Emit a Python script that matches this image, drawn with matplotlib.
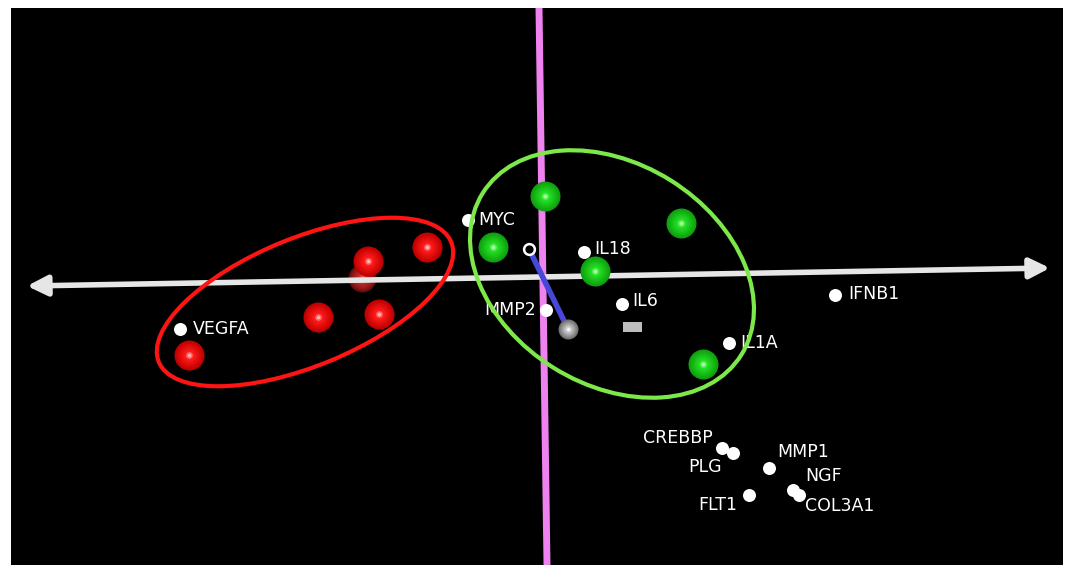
import numpy as np
import matplotlib.pyplot as plt
from matplotlib.patches import Ellipse, Rectangle
from matplotlib.colors import to_rgb

# positions are in picture pixels (x right, y down)
red_x = [427, 368, 318, 379, 189]
red_y = [247, 261, 317, 314, 355]
red_hidden_x = [362]
red_hidden_y = [278]

green_x = [545, 493, 681, 595, 703]
green_y = [196, 247, 223, 271, 364]

genes = ['VEGFA', 'MYC', 'IL18', 'MMP2', 'IL6', 'IL1A', 'IFNB1',
         'CREBBP', 'PLG', 'MMP1', 'NGF', 'COL3A1', 'FLT1']
gene_x = [180, 468, 584, 546, 622, 729, 835, 722, 733, 769, 793, 799, 749]
gene_y = [329, 220, 252, 310, 304, 343, 295, 448, 453, 468, 490, 495, 495]
# label offset (dx, dy) and alignment for each gene
label_pos = {
    'VEGFA': (13, 0, 'left'), 'MYC': (10, 0, 'left'), 'IL18': (10, -3, 'left'),
    'MMP2': (-10, 0, 'right'), 'IL6': (10, -3, 'left'), 'IL1A': (11, 0, 'left'),
    'IFNB1': (13, -1, 'left'), 'CREBBP': (-9, -10, 'right'), 'PLG': (-11, 14, 'right'),
    'MMP1': (8, -16, 'left'), 'NGF': (12, -14, 'left'), 'COL3A1': (6, 11, 'left'),
    'FLT1': (-12, 10, 'right'),
}

# axis lines of the 3D view
pink_axis_x = [539, 547]
pink_axis_y = [8, 565]
white_axis_x = [27, 1050]
white_axis_y = [286, 268]

# centroid link
link_x = [529, 568]
link_y = [249, 329]


def blend(c1, c2, t):
    a, b = np.array(to_rgb(c1)), np.array(to_rgb(c2))
    return tuple(a * (1 - t) + b * t)


def draw_spheres(ax, xs, ys, r, edge, mid, core, z, alpha=1.0):
    steps = 9
    for i in range(steps):
        f = 1 - i / steps
        t = i / (steps - 1)
        if t < 0.75:
            col = blend(edge, mid, t / 0.75)
        else:
            col = blend(mid, core, (t - 0.75) / 0.25)
        ax.scatter(xs, ys, s=(2 * r * f * 0.72) ** 2, color=col,
                   linewidths=0, zorder=z, alpha=alpha)


fig = plt.figure(figsize=(10.68, 5.65), dpi=100, facecolor='white')
ax = fig.add_axes([11 / 1068, 0, (1063 - 11) / 1068, (565 - 8) / 565])
ax.set_facecolor('black')
ax.set_xlim(11, 1063)
ax.set_ylim(565, 8)
ax.set_xticks([])
ax.set_yticks([])
for s in ax.spines.values():
    s.set_visible(False)

# hidden red sphere sits behind the horizontal axis
draw_spheres(ax, red_hidden_x, red_hidden_y, 14, '#7a1010', '#c83030', '#e08080', 1, alpha=0.8)

# axes
ax.plot(pink_axis_x, pink_axis_y, color='#ee82ee', lw=5, solid_capstyle='butt', zorder=2)
ax.annotate('', xy=(white_axis_x[0], white_axis_y[0]), xytext=(white_axis_x[1], white_axis_y[1]),
            arrowprops=dict(arrowstyle='<|-|>', color='#e6e6e6', lw=4,
                            mutation_scale=30, shrinkA=0, shrinkB=0), zorder=2)

# link from centroid ring to grey sphere
ax.plot(link_x, link_y, color='#4848d8', lw=4, solid_capstyle='round', zorder=3)
ax.scatter(link_x[:1], link_y[:1], s=60, facecolor='black', edgecolor='white', linewidths=1.8, zorder=4)
draw_spheres(ax, link_x[1:], link_y[1:], 10, '#707070', '#c8c8c8', '#ffffff', 4)
ax.add_patch(Rectangle((623, 322), 19, 10, facecolor='#bdbdbd', edgecolor='none', zorder=4))

# group spheres
draw_spheres(ax, red_x, red_y, 15, '#c00000', '#ff1a1a', '#ffb8b8', 5)
draw_spheres(ax, green_x, green_y, 15, '#0fa00f', '#22e022', '#a8ffa8', 5)

# gene points and labels
ax.scatter(gene_x, gene_y, s=(13 * 0.72) ** 2, color='white', linewidths=0, zorder=6)
for name, x, y in zip(genes, gene_x, gene_y):
    dx, dy, ha = label_pos[name]
    ax.text(x + dx, y + dy, name, color='white', fontsize=12.5, ha=ha, va='center',
            fontfamily='DejaVu Sans', zorder=6)

# cluster outlines
ax.add_patch(Ellipse((305, 302), 316, 128, angle=-22.3, fill=False,
                     edgecolor='#ff1414', lw=3, zorder=7))
ax.add_patch(Ellipse((612, 274), 305, 221, angle=32, fill=False,
                     edgecolor='#7de84a', lw=3, zorder=7))

fig.savefig('out.png', dpi=100, facecolor='white')
